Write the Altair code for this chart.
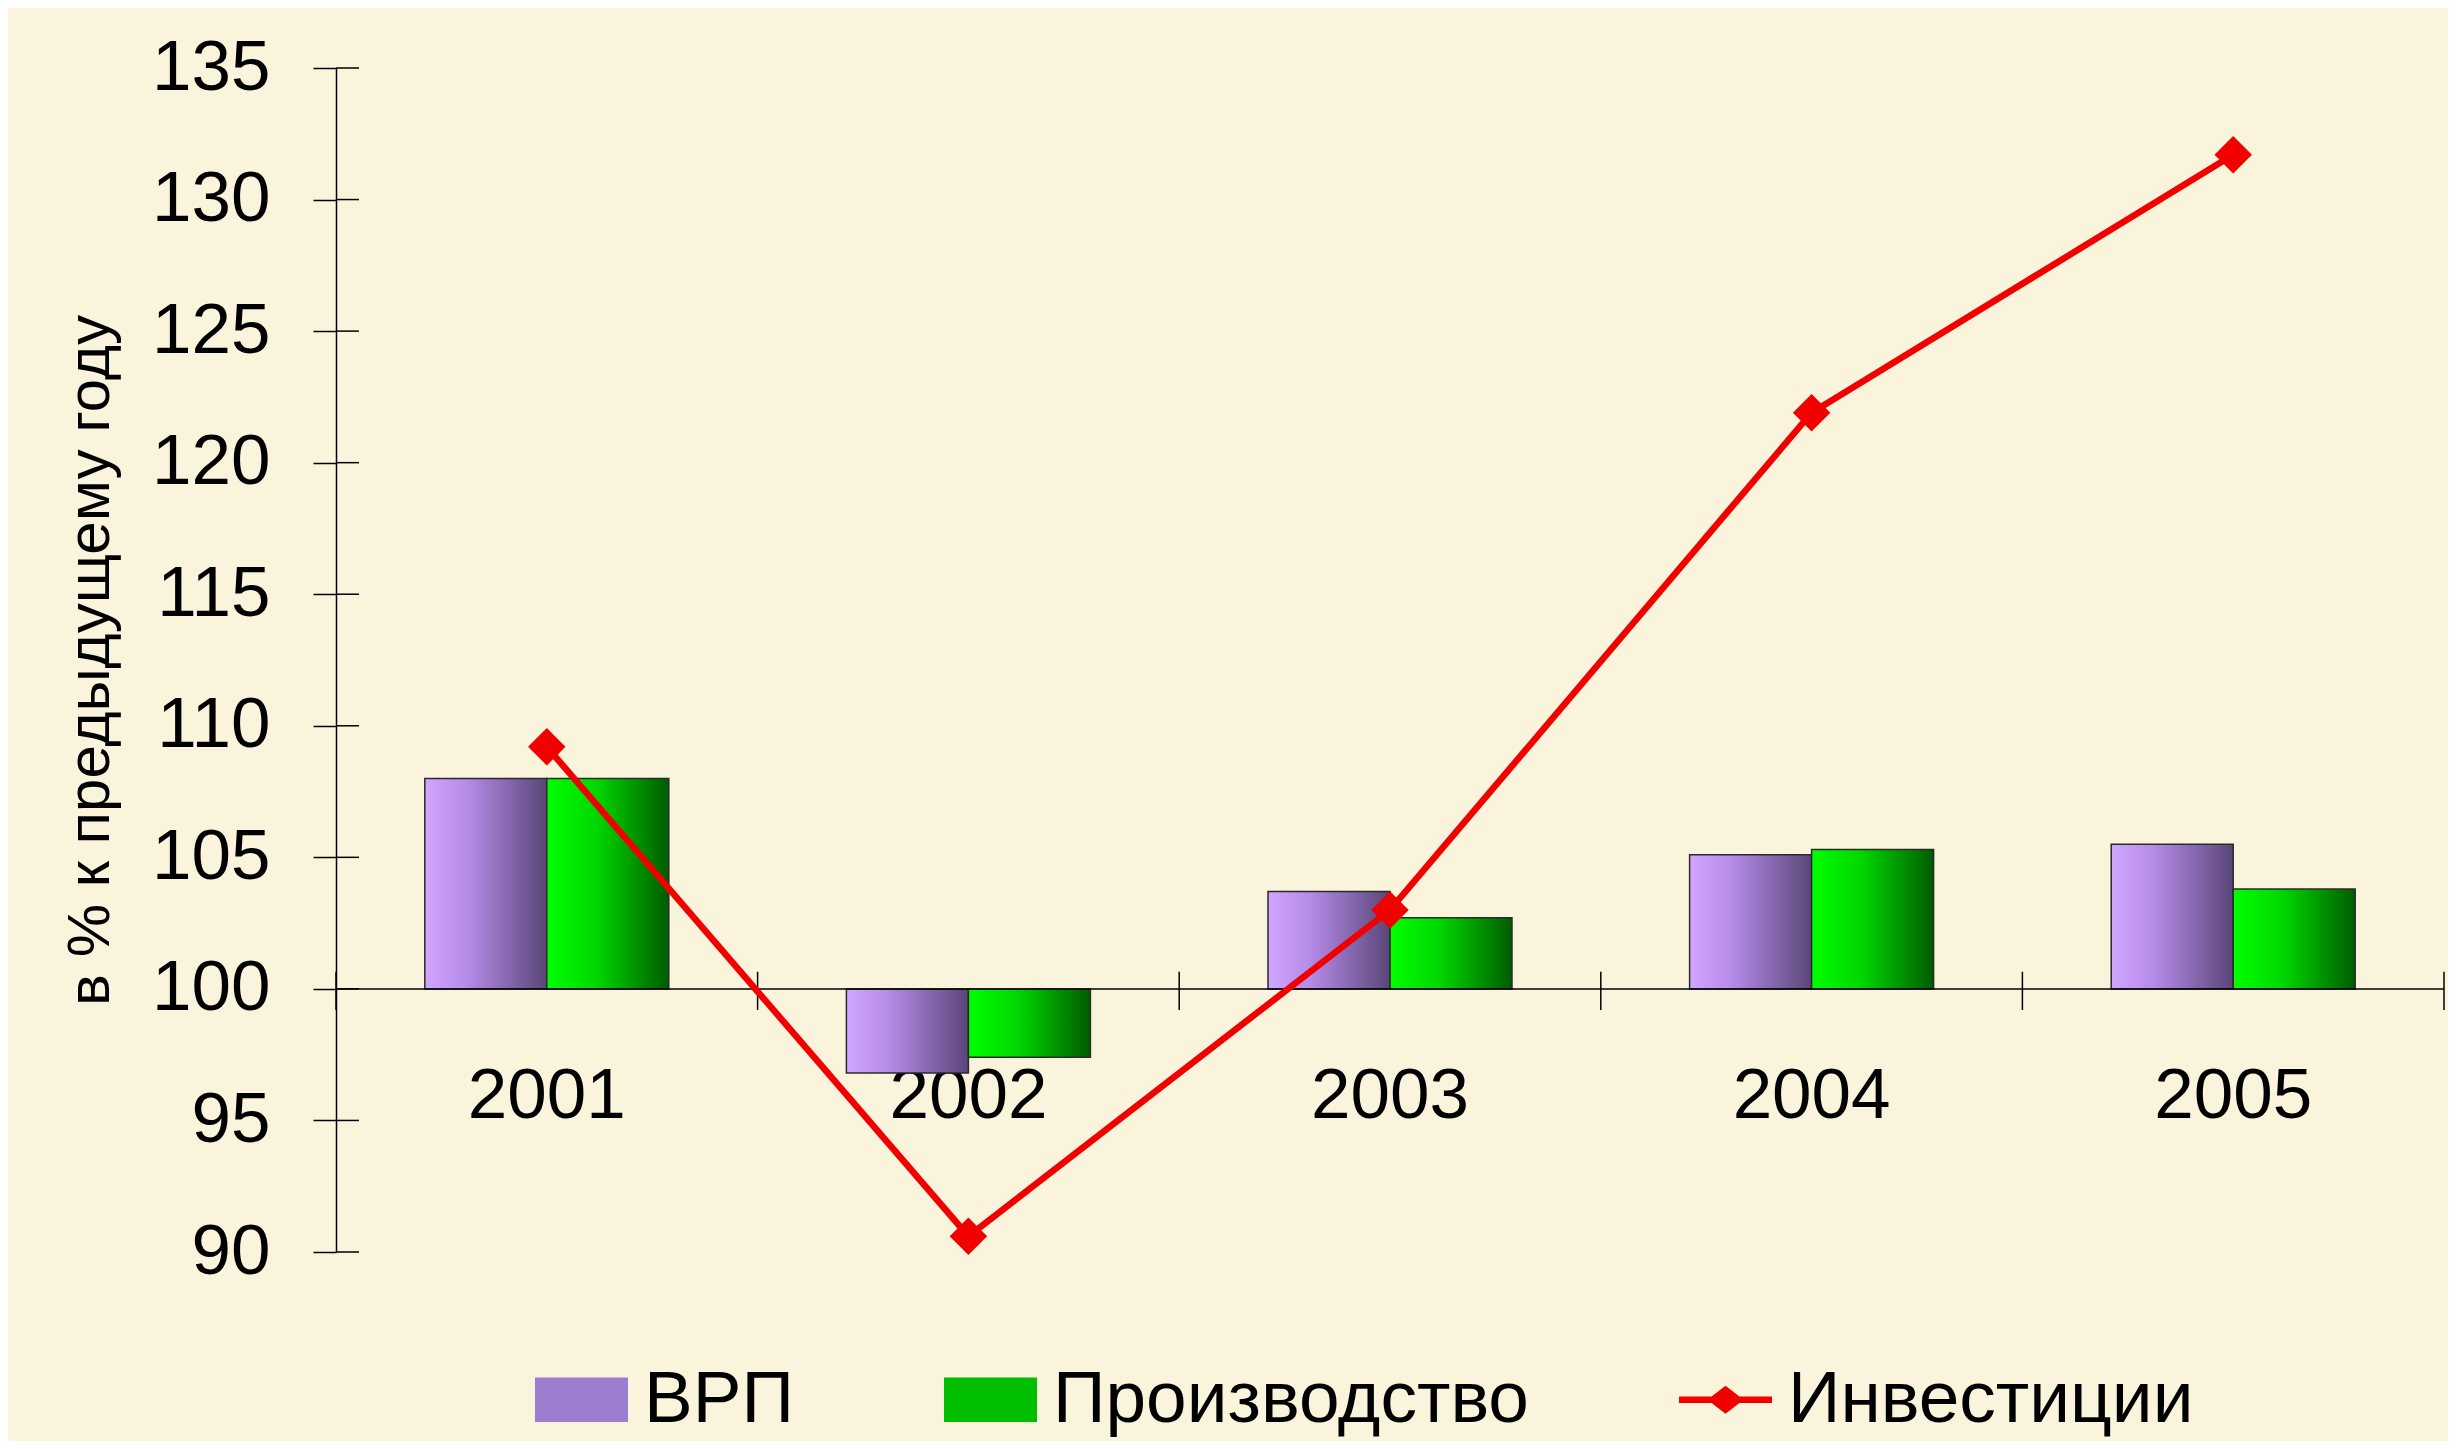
import altair as alt
import pandas as pd

# ---- data ----
years = ["2001", "2002", "2003", "2004", "2005"]
vrp = [108.0, 96.8, 103.7, 105.1, 105.5]          # ВРП
prod = [108.0, 97.4, 102.7, 105.3, 103.8]         # Производство
inv = [109.2, 90.6, 103.0, 121.9, 131.7]          # Инвестиции
series_names = ["ВРП", "Производство", "Инвестиции"]
y_ticks = [90, 95, 100, 105, 110, 115, 120, 125, 130, 135]
y_title = "в % к предыдущему году"
base_value = 100

# ---- layout / style ----
W, H = 2108, 1184
FONT = "Liberation Sans"
BG = "#FBF4DD"

bars_df = pd.DataFrame({
    "year": years * 2,
    "series": [series_names[0]] * len(years) + [series_names[1]] * len(years),
    "value": vrp + prod,
})
inv_df = pd.DataFrame({"year": years, "series": series_names[2], "value": inv})
all_df = pd.concat([bars_df, inv_df], ignore_index=True)
ticks_df = pd.DataFrame({"v": y_ticks})
years_df = pd.DataFrame({"year": years})
base_df = pd.DataFrame({"b": [base_value]})

ymin, ymax = y_ticks[0], y_ticks[-1]
x_axis_offset = -(base_value - ymin) / (ymax - ymin) * H

x_scale = alt.Scale(domain=years, paddingInner=0, paddingOuter=0)
y_scale = alt.Scale(domain=[ymin, ymax], nice=False, zero=False)
off_scale = alt.Scale(domain=series_names[:2], paddingInner=0, paddingOuter=0.728)

x_axis = alt.Axis(
    title=None, labelAngle=0, domain=False, ticks=False, grid=False,
    labelFont=FONT, labelFontSize=71, labelColor="black",
    labelPadding=73, labelBaseline="top", offset=x_axis_offset,
)
y_axis = alt.Axis(
    values=y_ticks, title=y_title, grid=False,
    domainColor="black", domainWidth=1.5,
    tickColor="black", tickWidth=1.5, tickSize=23,
    labelFont=FONT, labelFontSize=71, labelColor="black", labelPadding=43,
    titleFont=FONT, titleFontSize=60, titleFontWeight="normal",
    titleColor="black", titlePadding=30,
)


def X(**kw):
    return alt.X("year:N", scale=x_scale, axis=x_axis, title=None, **kw)


def Y(field="value:Q"):
    return alt.Y(field, scale=y_scale, axis=y_axis, title=y_title)


def grad(stops):
    return alt.LinearGradient(
        gradient="linear", x1=0, x2=1, y1=0, y2=0,
        stops=[alt.GradientStop(color=c, offset=o) for o, c in stops],
    )


vrp_grad = grad([(0, "#D2A6FF"), (0.35, "#B48BE8"), (1, "#5A4678")])
prod_grad = grad([(0, "#00FF00"), (0.4, "#00D800"), (1, "#005C00")])

bar_layers = []
for name, g in zip(series_names[:2], [vrp_grad, prod_grad]):
    bar_layers.append(
        alt.Chart(bars_df)
        .transform_filter(alt.datum.series == name)
        .mark_bar(fill=g, stroke="#2A2A2A", strokeWidth=1.5)
        .encode(
            x=X(),
            xOffset=alt.XOffset("series:N", scale=off_scale),
            y=Y(),
            y2=alt.datum(base_value),
        )
    )

# x axis line at 100
x_line = alt.Chart(base_df).mark_rule(color="black", strokeWidth=1.5).encode(
    y=Y("b:Q"), x=alt.value(0), x2=alt.value(W)
)
# category separators crossing the axis line
x_ticks = alt.Chart(years_df).mark_rule(color="black", strokeWidth=1.5).encode(
    x=X(bandPosition=0), y=alt.datum(base_value + 0.65), y2=alt.datum(base_value - 0.8)
)
x_tick_end = (
    alt.Chart(years_df)
    .transform_filter(alt.datum.year == years[-1])
    .mark_rule(color="black", strokeWidth=1.5)
    .encode(x=X(bandPosition=1), y=alt.datum(base_value + 0.65), y2=alt.datum(base_value - 0.8))
)
# inner halves of the y ticks
y_inner = alt.Chart(ticks_df).mark_rule(color="black", strokeWidth=1.5).encode(
    y=Y("v:Q"), x=alt.value(0), x2=alt.value(23)
)

inv_line = alt.Chart(inv_df).mark_line(color="#F20000", strokeWidth=6.5).encode(
    x=X(), y=Y()
)
inv_pts = alt.Chart(inv_df).mark_point(
    shape="diamond", filled=True, size=1400, color="#F20000", opacity=1
).encode(x=X(), y=Y())

rect_path = "M-1,-0.48L1,-0.48L1,0.48L-1,0.48Z"
inv_path = ("M-1,-0.07L-0.3,-0.07L0,-0.3L0.3,-0.07L1,-0.07L1,0.07"
            "L0.3,0.07L0,0.3L-0.3,0.07L-1,0.07Z")
legend = alt.Legend(
    title=None, orient="none", legendX=199, legendY=1285,
    direction="horizontal", columns=3, padding=0,
    symbolSize=8649, symbolStrokeWidth=0, symbolOpacity=1,
    labelFont=FONT, labelFontSize=73, labelColor="black", labelLimit=2000,
    labelOffset=16, columnPadding=150,
)
legend_layer = alt.Chart(all_df).mark_point(opacity=0, filled=True).encode(
    x=X(),
    y=Y(),
    color=alt.Color(
        "series:N",
        scale=alt.Scale(domain=series_names, range=["#9C7ED0", "#00BE00", "#F20000"]),
        legend=legend,
    ),
    shape=alt.Shape(
        "series:N",
        scale=alt.Scale(domain=series_names, range=[rect_path, rect_path, inv_path]),
        legend=legend,
    ),
)

chart = (
    alt.layer(*bar_layers, x_line, x_ticks, x_tick_end, y_inner, inv_line, inv_pts, legend_layer)
    .properties(
        width=W, height=H,
        padding={"left": 328, "top": 60, "right": 4, "bottom": 189},
        autosize=alt.AutoSizeParams(type="none"),
        background=BG,
    )
    .configure_view(stroke=None)
)

chart.save("out.html", embed_options={"renderer": "svg", "actions": False})
